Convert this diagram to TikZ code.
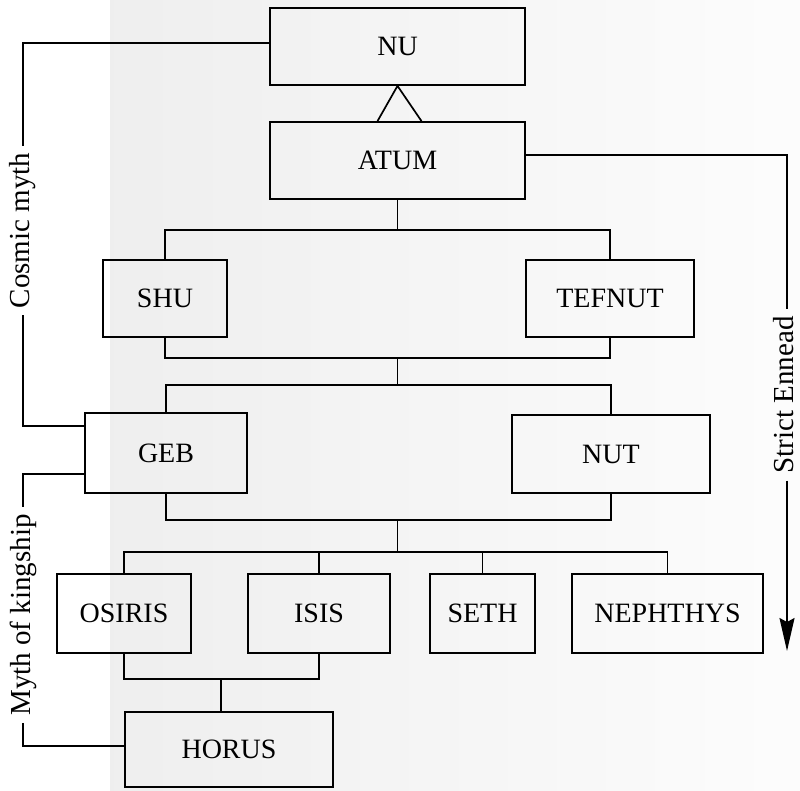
\documentclass[tikz,border=0pt]{standalone}
\usepackage{fontspec}
\setmainfont{Liberation Serif}
\usetikzlibrary{arrows.meta}
\newcommand{\bxfont}{\fontsize{28}{32}\selectfont}
\newcommand{\lbfont}{\fontsize{29}{32}\selectfont}
\begin{document}
\begin{tikzpicture}[x=1pt,y=-1pt,
  box/.style={draw, line width=1.8pt, inner sep=0pt, font=\bxfont, anchor=center},
  conn/.style={line width=1.7pt},
  lbl/.style={rotate=90, font=\lbfont, inner xsep=7pt, inner ysep=0pt, anchor=center}]
\useasboundingbox (0,0) rectangle (800,790);
\shade[left color=gray!13, right color=gray!2] (110,0) rectangle (800,790);
% boxes
\node[box, minimum width=255pt, minimum height=77pt] (NU) at (397.5,46.5) {NU};
\node[box, minimum width=255pt, minimum height=77pt] (ATUM) at (397.5,160.5) {ATUM};
\node[box, minimum width=124pt, minimum height=77pt] (SHU) at (165,298.5) {SHU};
\node[box, minimum width=168pt, minimum height=77pt] (TEFNUT) at (610,298.5) {TEFNUT};
\node[box, minimum width=162pt, minimum height=80pt] (GEB) at (166,453) {GEB};
\node[box, minimum width=198pt, minimum height=78pt] (NUT) at (611,454) {NUT};
\node[box, minimum width=134pt, minimum height=79pt] (OSIRIS) at (124,613.5) {OSIRIS};
\node[box, minimum width=142pt, minimum height=79pt] (ISIS) at (319,613.5) {ISIS};
\node[box, minimum width=105pt, minimum height=79pt] (SETH) at (482.5,613.5) {SETH};
\node[box, minimum width=191pt, minimum height=79pt] (NEPH) at (667.5,613.5) {NEPHTHYS};
\node[box, minimum width=208pt, minimum height=75pt] (HORUS) at (229,749.5) {HORUS};
% side labels
\node[lbl] (cos) at (23,230.5) {Cosmic myth};
\node[lbl] (kin) at (23,615) {Myth of kingship};
\node[lbl] (ens) at (784,395) {Strict Ennead};
% junctions
\coordinate (j1) at (397.5,230);
\coordinate (j2) at (397.5,358);
\coordinate (j3) at (397.5,385);
\coordinate (j4) at (397.5,520);
\coordinate (j5) at (397.5,552);
\coordinate (j6) at (221,679);
\coordinate (tip) at (787,651);
% NU -> ATUM
\draw[conn] ([xshift=-20pt]ATUM.north) -- (NU.south) -- ([xshift=24pt]ATUM.north);
% ATUM -> SHU, TEFNUT
\draw[conn] (ATUM.south) -- (j1);
\draw[conn] (SHU.north) |- (j1) -| (TEFNUT.north);
% SHU, TEFNUT -> GEB, NUT
\draw[conn] (SHU.south) |- (j2) -| (TEFNUT.south);
\draw[conn] (j2) -- (j3);
\draw[conn] (GEB.north) |- (j3) -| (NUT.north);
% GEB, NUT -> children
\draw[conn] (GEB.south) |- (j4) -| (NUT.south);
\draw[conn] (j4) -- (j5);
\draw[conn] (OSIRIS.north) |- (j5) -| (NEPH.north);
\draw[conn] (ISIS.north) -- (ISIS.north |- j5);
\draw[conn] (SETH.north) -- (SETH.north |- j5);
% OSIRIS, ISIS -> HORUS
\draw[conn] (OSIRIS.south) |- (j6) -| (ISIS.south);
\draw[conn] (j6) -- (j6 |- HORUS.north);
% side brackets
\draw[conn] ([yshift=3.5pt]NU.west) -| (cos.east);
\draw[conn] (cos.west) |- ([yshift=27pt]GEB.west);
\draw[conn] ([yshift=-21pt]GEB.west) -| (kin.east);
\draw[conn] (kin.west) |- ([yshift=3.5pt]HORUS.west);
\draw[conn] ([yshift=5.5pt]ATUM.east) -| (tip |- ens.east);
\draw[conn, -{Stealth[length=33pt,width=15pt,inset=4pt]}] (tip |- ens.west) -- (tip);
\end{tikzpicture}
\end{document}
